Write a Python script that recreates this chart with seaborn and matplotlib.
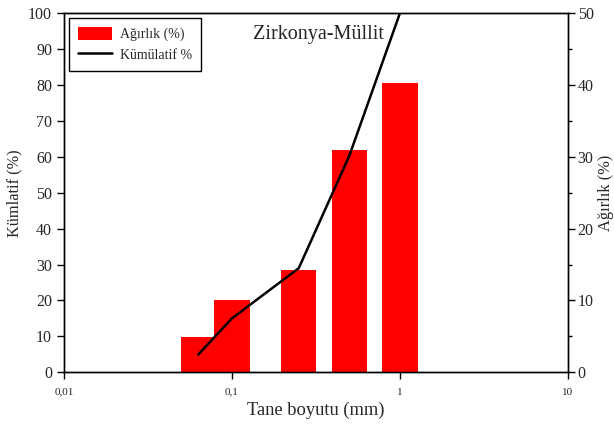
import numpy as np
import pandas as pd
import matplotlib
matplotlib.use("Agg")
import matplotlib.pyplot as plt
from matplotlib.ticker import FixedLocator, FixedFormatter, MultipleLocator, NullLocator
from matplotlib.patches import Patch
from matplotlib.lines import Line2D
import seaborn as sns

# Sieve sizes (mm), weight fractions and cumulative percentage
sizes = [0.063, 0.1, 0.25, 0.5, 1.0]
weight_pct = [4.9, 10.1, 14.3, 30.9, 40.3]
cumulative_pct = [4.9, 15.0, 29.0, 60.3, 100.0]

x_ticks = [0.01, 0.1, 1, 10]
x_tick_labels = ["0,01", "0,1", "1", "10"]

sns.set_theme(style="ticks")
plt.rcParams["font.family"] = ["Liberation Serif", "DejaVu Serif"]

df = pd.DataFrame({"size": sizes, "weight": weight_pct, "cum": cumulative_pct})

fig = plt.figure(figsize=(6.14, 4.25), dpi=100)
ax = fig.add_axes([0.104, 0.124, 0.821, 0.845])
ax2 = ax.twinx()

# Bars on the right axis, one log-decade fraction wide
half = 0.105
left = df["size"] * 10 ** (-half)
width = df["size"] * (10 ** half - 10 ** (-half))
ax2.bar(left, df["weight"], width=width, align="edge", color="#ff0000",
        edgecolor="none", linewidth=0)

# Cumulative curve on the left axis
sns.lineplot(data=df, x="size", y="cum", ax=ax, color="black", linewidth=1.8)

ax.set_xscale("log")
ax.set_xlim(0.01, 10)
ax.set_ylim(0, 100)
ax2.set_ylim(0, 50)

ax.xaxis.set_major_locator(FixedLocator(x_ticks))
ax.xaxis.set_major_formatter(FixedFormatter(x_tick_labels))
ax.xaxis.set_minor_locator(NullLocator())
ax.yaxis.set_major_locator(MultipleLocator(10))
ax.yaxis.set_minor_locator(NullLocator())
ax2.yaxis.set_major_locator(MultipleLocator(10))
ax2.yaxis.set_minor_locator(MultipleLocator(5))

ax.tick_params(axis="x", labelsize=8, direction="out", length=5, width=1, color="black", pad=6)
ax.tick_params(axis="y", labelsize=11.5, direction="out", length=5, width=1, color="black")
ax2.tick_params(axis="y", which="major", labelsize=11.5, direction="out", length=5, width=1,
                color="black", pad=2)
ax2.tick_params(axis="y", which="minor", direction="out", length=3, width=1, color="black")

for a in (ax, ax2):
    for sp in a.spines.values():
        sp.set_visible(True)
        sp.set_color("black")
        sp.set_linewidth(1.0)

ax.set_xlabel("Tane boyutu (mm)", fontsize=13.3, labelpad=4)
ax.set_ylabel("Kümlatif (%)", fontsize=11.8, labelpad=4)
ax2.set_ylabel("Ağırlık (%)", fontsize=11.8, va="center")
ax2.yaxis.set_label_coords(1.076, 0.5)

ax.set_zorder(ax2.get_zorder() + 1)
ax.patch.set_visible(False)

ax.text(0.506, 0.94, "Zirkonya-Müllit", transform=ax.transAxes,
        ha="center", va="center", fontsize=14.5)

handles = [Patch(facecolor="#ff0000", edgecolor="none"),
           Line2D([0], [0], color="black", linewidth=1.8)]
leg = ax.legend(handles, ["Ağırlık (%)", "Kümülatif %"], loc="upper left",
                bbox_to_anchor=(0.01, 0.986), fontsize=10, frameon=True,
                fancybox=False, edgecolor="black", framealpha=1,
                handlelength=2.45, handleheight=1.0, borderpad=0.65,
                labelspacing=0.45, handletextpad=0.6, borderaxespad=0)
leg.get_frame().set_linewidth(1.0)

fig.savefig("out.png", dpi=100)
